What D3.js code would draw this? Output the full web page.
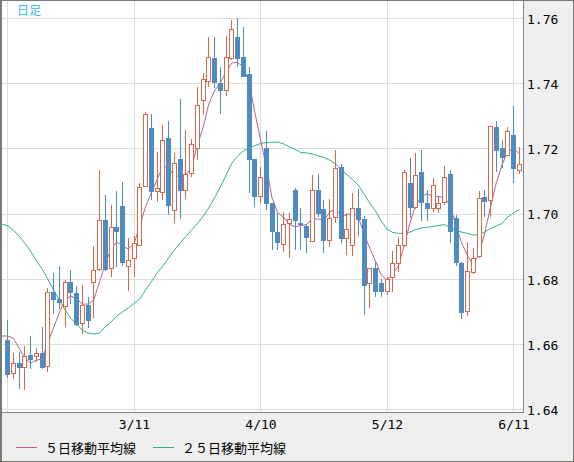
<!DOCTYPE html>
<html>
<head>
<meta charset="utf-8">
<script src="https://cdn.jsdelivr.net/npm/d3@7"></script>
<style>
body { margin: 0; background: #efefef; }
svg { display: block; }
.yaxis text, .xaxis text { font-family: "DejaVu Sans Mono", monospace; font-size: 13px; fill: #000; }
.jp { font-family: "Noto Sans CJK JP", sans-serif; }
</style>
</head>
<body>
<svg id="chart" width="574" height="462"></svg>
<script>
// daily candles, oldest first
var opens = [1.6612,1.6507,1.6540,1.6527,1.6565,1.6559,1.6571,1.6528,1.6759,1.6738,
1.6712,1.6789,1.6755,1.6660,1.6719,1.6786,1.6827,1.6980,1.6829,1.6959,
1.7023,1.6837,1.6859,1.6901,1.7082,1.7262,1.7067,1.7062,1.7232,1.7009,
1.7167,1.7070,1.7120,1.7197,1.7346,1.7405,1.7477,1.7400,1.7377,1.7474,
1.7543,1.7479,1.7427,1.7167,1.7050,1.7202,1.7031,1.6942,1.6902,1.6967,
1.7072,1.6972,1.6963,1.6912,1.7072,1.7013,1.6917,1.6985,1.7143,1.6921,
1.6901,1.7017,1.6983,1.6784,1.6833,1.6786,1.6758,1.6801,1.6844,1.6901,
1.7093,1.7016,1.7126,1.7031,1.7014,1.7013,1.7031,1.7121,1.6985,1.6849,
1.6697,1.6818,1.6867,1.7050,1.7039,1.7265,1.7200,1.7177,1.7241,1.7130]

var highs = [1.6673,1.6571,1.6576,1.6593,1.6624,1.6586,1.6651,1.6770,1.6817,1.6839,
1.6796,1.6827,1.6778,1.6781,1.6745,1.6900,1.7134,1.7057,1.7025,1.7070,
1.7097,1.6924,1.6931,1.7093,1.7312,1.7304,1.7189,1.7272,1.7283,1.7186,
1.7351,1.7256,1.7229,1.7387,1.7431,1.7543,1.7543,1.7451,1.7545,1.7594,
1.7601,1.7573,1.7451,1.7167,1.7142,1.7253,1.7031,1.7001,1.7005,1.7002,
1.7077,1.7016,1.6967,1.7118,1.7122,1.7041,1.7044,1.7195,1.7151,1.7001,
1.7062,1.7074,1.6993,1.6833,1.6852,1.6798,1.6804,1.6886,1.6929,1.7134,
1.7171,1.7185,1.7195,1.7072,1.7108,1.7050,1.7146,1.7134,1.6995,1.6852,
1.6913,1.6893,1.7069,1.7072,1.7270,1.7284,1.7226,1.7265,1.7330,1.7205]

var lows = [1.6496,1.6491,1.6462,1.6458,1.6524,1.6545,1.6524,1.6515,1.6691,1.6706,
1.6653,1.6722,1.6656,1.6629,1.6649,1.6678,1.6824,1.6824,1.6806,1.6837,
1.6840,1.6763,1.6806,1.6901,1.7080,1.7041,1.7036,1.7041,1.6995,1.6970,
1.6983,1.7044,1.7111,1.7164,1.7302,1.7389,1.7384,1.7305,1.7361,1.7471,
1.7451,1.7418,1.7063,1.7021,1.7032,1.7011,1.6888,1.6888,1.6883,1.6863,
1.6888,1.6888,1.6880,1.6912,1.6990,1.6878,1.6896,1.6970,1.6909,1.6873,
1.6870,1.6931,1.6689,1.6710,1.6745,1.6745,1.6750,1.6758,1.6821,1.6898,
1.6985,1.7014,1.6978,1.6978,1.7004,1.7001,1.7026,1.6909,1.6839,1.6676,
1.6686,1.6814,1.6863,1.6990,1.6990,1.7128,1.7139,1.7177,1.7093,1.7120]

var closes = [1.6504,1.6540,1.6527,1.6564,1.6551,1.6571,1.6527,1.6758,1.6735,1.6726,
1.6789,1.6755,1.6658,1.6719,1.6671,1.6826,1.6979,1.6827,1.6959,1.6942,
1.6847,1.6857,1.6909,1.7080,1.7304,1.7066,1.7077,1.7225,1.7024,1.7154,
1.7069,1.7120,1.7213,1.7333,1.7412,1.7480,1.7400,1.7377,1.7479,1.7565,
1.7474,1.7420,1.7164,1.7050,1.7111,1.7029,1.6944,1.6909,1.6967,1.6982,
1.6978,1.6965,1.6924,1.7071,1.6999,1.6917,1.6987,1.7139,1.6921,1.6952,
1.7016,1.6979,1.6778,1.6833,1.6760,1.6760,1.6799,1.6847,1.6903,1.7126,
1.7016,1.7117,1.7031,1.7013,1.7087,1.7031,1.7111,1.6944,1.6847,1.6696,
1.6824,1.6863,1.7047,1.7034,1.7269,1.7193,1.7170,1.7252,1.7136,1.7151]

// moving averages, first value is the day before the first candle
var ma5 = [1.6624, 1.6624,1.6618,1.6587,1.6557,1.6541,1.6550,1.6553,1.6603,1.6649,1.6695,
1.6735,1.6747,1.6738,1.6722,1.6722,1.6735,1.6790,1.6845,1.6891,1.6913,
1.6900,1.6891,1.6906,1.6962,1.7020,1.7063,1.7103,1.7146,1.7140,1.7115,
1.7114,1.7118,1.7140,1.7210,1.7262,1.7336,1.7376,1.7401,1.7434,1.7462,
1.7464,1.7450,1.7404,1.7312,1.7226,1.7146,1.7048,1.7002,1.6989,1.6968,
1.6959,1.6963,1.6966,1.6985,1.6983,1.6980,1.7003,1.7014,1.6995,1.6995,
1.7002,1.6991,1.6937,1.6894,1.6854,1.6811,1.6796,1.6814,1.6839,1.6903,
1.6971,1.7026,1.7051,1.7061,1.7052,1.7052,1.7048,1.7026,1.6962,1.6909,
1.6870,1.6843,1.6876,1.6940,1.7020,1.7094,1.7149,1.7189,1.7201,1.7183]

var ma25 = [1.6968, 1.6962,1.6949,1.6931,1.6909,1.6885,1.6857,1.6830,1.6799,1.6765,1.6735,
1.6704,1.6679,1.6661,1.6642,1.6633,1.6630,1.6633,1.6652,1.6667,1.6685,
1.6698,1.6710,1.6724,1.6738,1.6765,1.6790,1.6817,1.6839,1.6863,1.6888,
1.6909,1.6929,1.6949,1.6968,1.6991,1.7017,1.7048,1.7081,1.7117,1.7154,
1.7176,1.7192,1.7201,1.7208,1.7215,1.7218,1.7219,1.7219,1.7214,1.7204,
1.7197,1.7187,1.7186,1.7183,1.7177,1.7172,1.7164,1.7153,1.7135,1.7120,
1.7104,1.7087,1.7060,1.7032,1.7008,1.6977,1.6952,1.6942,1.6939,1.6939,
1.6943,1.6951,1.6956,1.6958,1.6960,1.6963,1.6966,1.6956,1.6948,1.6943,
1.6939,1.6934,1.6936,1.6943,1.6954,1.6962,1.6969,1.6989,1.7002,1.7012]

var yTicks = [1.64, 1.66, 1.68, 1.70, 1.72, 1.74, 1.76]
var gridIdx = [0, 22, 44, 66, 88]
var dateIdx = [22, 44, 66, 88]
var dateLabels = ['3/11', '4/10', '5/12', '6/11']

var W = 574, H = 462
var plot = {left: 2, top: 1, right: 523, bottom: 412}
var upColor = '#d8674b', downColor = '#4d8bc1'
var ma5Color = '#b4648e', ma25Color = '#2db47b'

var x = d3.scaleLinear().domain([0, 89]).range([7.5, 519.25])
var y = d3.scaleLinear().domain([1.64, 1.76]).range([409, 18])
function cx(i) { return Math.floor(x(i)) + 0.5 }

var svg = d3.select('#chart')
svg.append('rect').attr('width', W).attr('height', H).attr('fill', '#efefef')
svg.append('rect')
    .attr('x', plot.left).attr('y', plot.top)
    .attr('width', plot.right - plot.left).attr('height', plot.bottom - plot.top)
    .attr('fill', '#fff')

svg.append('clipPath').attr('id', 'clip').append('rect')
    .attr('x', plot.left).attr('y', plot.top)
    .attr('width', plot.right - plot.left).attr('height', plot.bottom - plot.top)

// grid
svg.append('g').selectAll('line').data(yTicks).enter().append('line')
    .attr('x1', plot.left).attr('x2', plot.right)
    .attr('y1', d => Math.round(y(d)) + 0.5).attr('y2', d => Math.round(y(d)) + 0.5)
    .attr('stroke', '#dddddd')
svg.append('g').selectAll('line').data(gridIdx).enter().append('line')
    .attr('x1', d => cx(d)).attr('x2', d => cx(d))
    .attr('y1', plot.top).attr('y2', plot.bottom)
    .attr('stroke', '#dddddd')

var g = svg.append('g').attr('clip-path', 'url(#clip)')

// moving averages
var line = d3.line().x((d, i) => x(i - 1)).y(d => y(d))
g.append('path').attr('d', line(ma25)).attr('fill', 'none').attr('stroke', ma25Color).attr('stroke-width', 1)
g.append('path').attr('d', line(ma5)).attr('fill', 'none').attr('stroke', ma5Color).attr('stroke-width', 1)

// candles
var idx = d3.range(closes.length)
function isUp(i) { return closes[i] >= opens[i] }
g.selectAll('line.wick').data(idx).enter().append('line')
    .attr('class', 'wick')
    .attr('x1', cx).attr('x2', cx)
    .attr('y1', i => Math.round(y(highs[i]))).attr('y2', i => Math.round(y(lows[i])))
    .attr('stroke', i => isUp(i) ? upColor : downColor)

g.selectAll('rect.up').data(idx.filter(isUp)).enter().append('rect')
    .attr('class', 'up')
    .attr('x', i => cx(i) - 2).attr('width', 4)
    .attr('y', i => Math.round(y(closes[i])) + 0.5)
    .attr('height', i => Math.max(1, Math.round(y(opens[i])) - Math.round(y(closes[i])) - 1))
    .attr('fill', '#fff').attr('stroke', upColor)

g.selectAll('rect.down').data(idx.filter(i => !isUp(i))).enter().append('rect')
    .attr('class', 'down')
    .attr('x', i => Math.floor(x(i)) - 2).attr('width', 5)
    .attr('y', i => Math.round(y(opens[i])))
    .attr('height', i => Math.max(1, Math.round(y(closes[i])) - Math.round(y(opens[i]))))
    .attr('fill', downColor)

// frame
svg.append('line').attr('x1', plot.right + 0.5).attr('x2', plot.right + 0.5)
    .attr('y1', 0).attr('y2', plot.bottom + 1).attr('stroke', '#858585')
svg.append('line').attr('x1', 0).attr('x2', plot.right + 1)
    .attr('y1', plot.bottom + 0.5).attr('y2', plot.bottom + 0.5).attr('stroke', '#858585')
svg.append('rect').attr('x', 0.5).attr('y', 0.5).attr('width', W - 1).attr('height', H - 1)
    .attr('fill', 'none').attr('stroke', '#7a7a74')
svg.append('line').attr('x1', 1.5).attr('x2', 1.5).attr('y1', 0).attr('y2', H)
    .attr('stroke', '#7a7a74')

// axes
var yAxis = svg.append('g').attr('class', 'yaxis')
    .attr('transform', 'translate(' + plot.right + ',0)')
    .call(d3.axisRight(y).tickValues(yTicks).tickSize(0).tickPadding(4).tickFormat(d3.format('.2f')))
yAxis.select('.domain').remove()
yAxis.selectAll('text').attr('dy', '0.42em')

var xAxis = svg.append('g').attr('class', 'xaxis')
    .attr('transform', 'translate(0,' + plot.bottom + ')')
    .call(d3.axisBottom(x).tickValues(dateIdx).tickSize(0).tickPadding(8)
        .tickFormat((d, i) => dateLabels[i]))
xAxis.select('.domain').remove()

// title
svg.append('text').attr('class', 'jp').attr('x', 17).attr('y', 15)
    .attr('font-size', 12).attr('fill', '#3bb5e6').text('日足')

// legend
var legend = [
    {name: '５日移動平均線', color: ma5Color, x: 16},
    {name: '２５日移動平均線', color: ma25Color, x: 153}
]
var lg = svg.append('g').selectAll('g').data(legend).enter().append('g')
lg.append('line').attr('x1', d => d.x).attr('x2', d => d.x + 21)
    .attr('y1', 447.5).attr('y2', 447.5).attr('stroke', d => d.color)
lg.append('text').attr('class', 'jp').attr('x', d => d.x + 29).attr('y', 453)
    .attr('font-size', 13).attr('fill', '#000').text(d => d.name)
</script>
</body>
</html>
